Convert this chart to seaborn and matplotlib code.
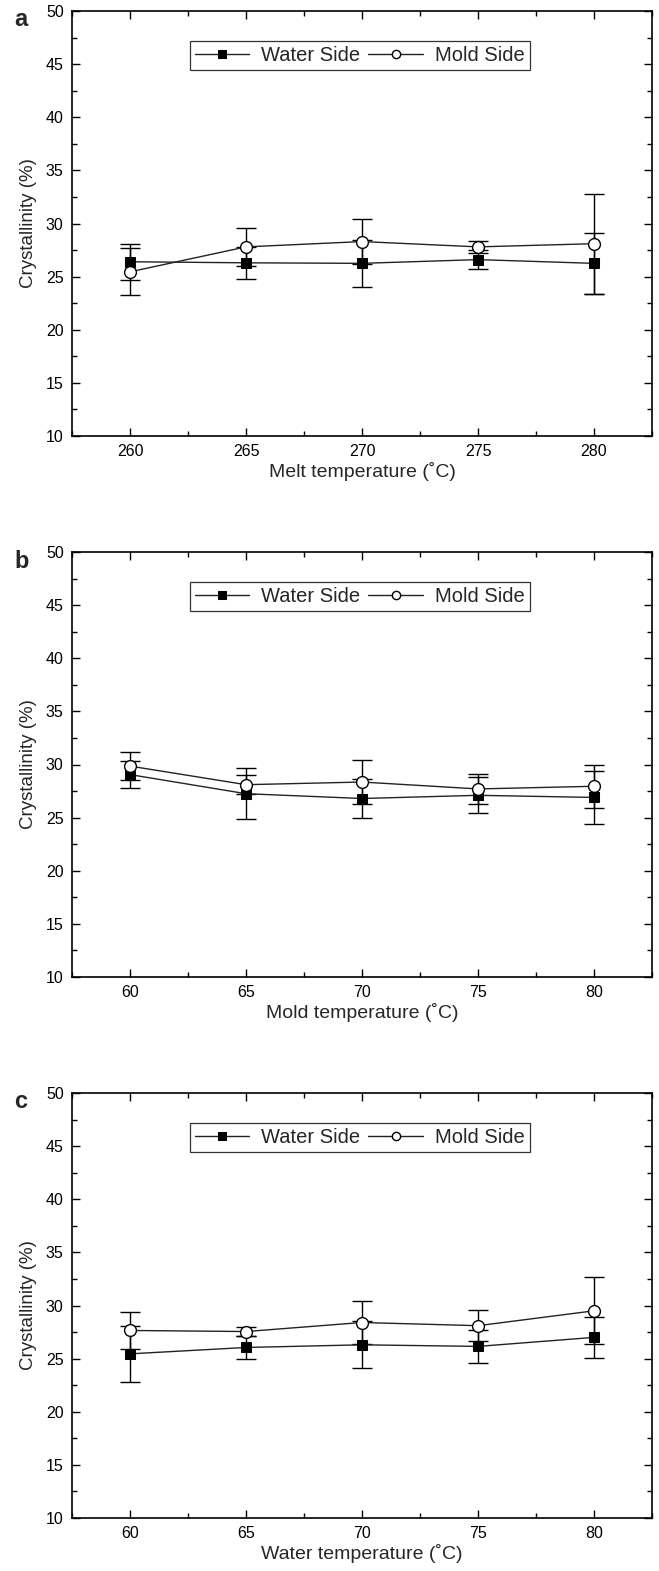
import numpy as np
import pandas as pd
import seaborn as sns
import matplotlib.pyplot as plt
from matplotlib.ticker import MultipleLocator

# x values of the three panels
melt_temp = [260, 265, 270, 275, 280]
mold_temp = [60, 65, 70, 75, 80]
water_temp = [60, 65, 70, 75, 80]

# panel a - melt temperature
a_water = [26.4, 26.3, 26.25, 26.6, 26.25]
a_water_err = [1.7, 1.5, 2.2, 0.9, 2.9]
a_mold = [25.45, 27.8, 28.3, 27.8, 28.1]
a_mold_err = [2.2, 1.8, 2.1, 0.6, 4.7]

# panel b - mold temperature
b_water = [29.05, 27.25, 26.8, 27.1, 26.9]
b_water_err = [1.25, 2.4, 1.8, 1.7, 2.5]
b_mold = [29.85, 28.1, 28.35, 27.7, 27.95]
b_mold_err = [1.3, 0.9, 2.1, 1.45, 2.05]

# panel c - water temperature
c_water = [25.45, 26.05, 26.3, 26.15, 27.0]
c_water_err = [2.65, 1.05, 2.2, 1.55, 1.9]
c_mold = [27.65, 27.55, 28.4, 28.1, 29.5]
c_mold_err = [1.75, 0.4, 2.05, 1.45, 3.15]

panel_letters = ["a", "b", "c"]
x_labels = ["Melt temperature (\u02daC)", "Mold temperature (\u02daC)", "Water temperature (\u02daC)"]

sns.set_theme(style="ticks")
plt.rcParams['font.family'] = ['Liberation Sans', 'DejaVu Sans']

fig = plt.figure(figsize=(6.59, 15.71), dpi=100)

panels = [
    (melt_temp, a_water, a_water_err, a_mold, a_mold_err),
    (mold_temp, b_water, b_water_err, b_mold, b_mold_err),
    (water_temp, c_water, c_water_err, c_mold, c_mold_err),
]
tops = [11, 552, 1093]  # pixel top of each axes

for i, (xs, w, we, m, me) in enumerate(panels):
    top = tops[i]
    ax = fig.add_axes([72 / 659, (1571 - top - 425) / 1571, 580 / 659, 425 / 1571])

    df = pd.DataFrame({"x": xs, "Water Side": w, "Mold Side": m})

    # error bars first, markers sit on top
    ax.errorbar(xs, w, yerr=we, fmt="none", ecolor="black", elinewidth=1,
                capsize=7, capthick=1, zorder=2)
    ax.errorbar(xs, m, yerr=me, fmt="none", ecolor="black", elinewidth=1,
                capsize=7, capthick=1, zorder=2)

    sns.lineplot(data=df, x="x", y="Water Side", ax=ax, color="#222222", lw=1,
                 marker="s", markersize=7.5, markerfacecolor="black",
                 markeredgecolor="black", label="Water Side", zorder=3)
    sns.lineplot(data=df, x="x", y="Mold Side", ax=ax, color="#222222", lw=1,
                 marker="o", markersize=8.5, markerfacecolor="white",
                 markeredgecolor="black", markeredgewidth=1, label="Mold Side", zorder=4)

    ax.set_xlim(xs[0] - 2.5, xs[-1] + 2.5)
    ax.set_ylim(10, 50)
    ax.xaxis.set_major_locator(MultipleLocator(5))
    ax.xaxis.set_minor_locator(MultipleLocator(2.5))
    ax.yaxis.set_major_locator(MultipleLocator(5))
    ax.yaxis.set_minor_locator(MultipleLocator(2.5))
    ax.tick_params(which="both", direction="in", top=True, right=True,
                   labelsize=11.5, colors="black", pad=6, width=1)
    ax.tick_params(which="major", length=6)
    ax.tick_params(which="minor", length=3.5)
    for s in ax.spines.values():
        s.set_linewidth(1.2)
        s.set_color("black")

    ax.set_xlabel(x_labels[i], fontsize=14, labelpad=2)
    ax.set_ylabel("Crystallinity (%)", fontsize=13.5, labelpad=6)

    leg = ax.legend(loc="upper center", bbox_to_anchor=(0.496, 0.93), ncol=2,
                    frameon=True, fancybox=False, edgecolor="black", fontsize=14.5,
                    handlelength=2.7, handletextpad=0.6, columnspacing=0.4,
                    borderpad=0.25, markerscale=0.7, borderaxespad=0)
    leg.get_frame().set_linewidth(0.9)

    fig.text(14 / 659, 1 - (top + 9) / 1571, panel_letters[i], fontsize=17,
             fontweight="bold", ha="left", va="center")

fig.savefig("out.png", dpi=100)
